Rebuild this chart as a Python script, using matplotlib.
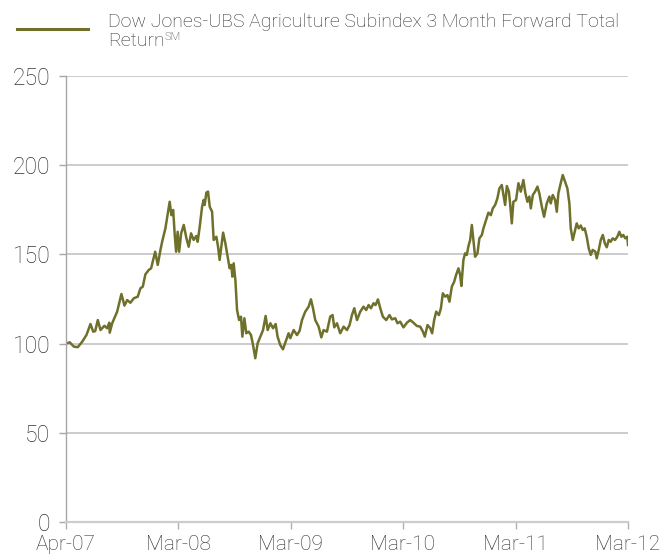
import numpy as np
from matplotlib import pyplot as plt
from matplotlib.lines import Line2D

# time in years since Apr-07, index level
t = [0.000, 0.038, 0.074, 0.109, 0.148, 0.186, 0.222, 0.246, 0.264, 0.287,
     0.311, 0.346, 0.370, 0.389, 0.393, 0.415, 0.459, 0.497, 0.524, 0.548,
     0.577, 0.607, 0.642, 0.666, 0.687, 0.710, 0.740, 0.761, 0.779, 0.797,
     0.820, 0.844, 0.859, 0.888, 0.909, 0.926, 0.941, 0.957, 0.971, 0.983,
     0.997, 1.010, 1.028, 1.051, 1.075, 1.095, 1.116, 1.139, 1.163, 1.175,
     1.193, 1.214, 1.228, 1.237, 1.252, 1.267, 1.282, 1.303, 1.317, 1.341,
     1.356, 1.370, 1.383, 1.401, 1.421, 1.441, 1.459, 1.474, 1.483, 1.495,
     1.510, 1.525, 1.543, 1.560, 1.572, 1.590, 1.607, 1.628, 1.649, 1.667,
     1.687, 1.708, 1.732, 1.756, 1.779, 1.797, 1.821, 1.845, 1.868, 1.885,
     1.909, 1.933, 1.956, 1.983, 1.998, 2.028, 2.058, 2.081, 2.102, 2.131,
     2.161, 2.182, 2.200, 2.220, 2.250, 2.274, 2.294, 2.324, 2.353, 2.374,
     2.389, 2.413, 2.442, 2.472, 2.502, 2.525, 2.546, 2.567, 2.591, 2.620,
     2.649, 2.673, 2.694, 2.715, 2.738, 2.756, 2.777, 2.798, 2.821, 2.851,
     2.880, 2.901, 2.931, 2.951, 2.975, 3.004, 3.035, 3.064, 3.093, 3.123,
     3.153, 3.177, 3.194, 3.218, 3.242, 3.259, 3.277, 3.295, 3.319, 3.337,
     3.354, 3.375, 3.395, 3.413, 3.434, 3.455, 3.472, 3.493, 3.508, 3.519,
     3.537, 3.552, 3.567, 3.582, 3.597, 3.612, 3.626, 3.641, 3.662, 3.679,
     3.701, 3.715, 3.739, 3.759, 3.781, 3.798, 3.819, 3.839, 3.857, 3.878,
     3.893, 3.908, 3.923, 3.941, 3.952, 3.967, 3.981, 4.005, 4.026, 4.047,
     4.070, 4.088, 4.106, 4.123, 4.136, 4.154, 4.174, 4.195, 4.212, 4.234,
     4.254, 4.278, 4.301, 4.313, 4.331, 4.352, 4.367, 4.381, 4.402, 4.420,
     4.440, 4.461, 4.479, 4.491, 4.509, 4.526, 4.544, 4.562, 4.580, 4.598,
     4.615, 4.633, 4.651, 4.669, 4.686, 4.710, 4.722, 4.740, 4.758, 4.776,
     4.794, 4.811, 4.829, 4.846, 4.864, 4.885, 4.905, 4.923, 4.941, 4.958,
     4.976, 4.994, 5.000]
level = [100, 100.7, 98.3, 98, 101, 104.8, 111, 106.7, 107, 113.2,
         107.6, 110, 108.6, 111.7, 106.1, 111.4, 117.9, 127.8, 121.3, 124.4,
         122.9, 125.4, 126.3, 131, 131.9, 138.8, 141.3, 142.2, 146.9, 151.5,
         144.1, 152.5, 157.1, 164.6, 173, 179.5, 172, 174.9, 160.9, 151.5,
         162.7, 151.5, 161.8, 166.5, 159, 154.3, 161.8, 158.1, 160.3, 157.1,
         165.5, 176.7, 180.5, 177.7, 184.6, 185.2, 176.7, 173.9, 158.1, 159.9,
         154.3, 146.9, 153.4, 162.2, 156.2, 148.7, 142.2, 144.1, 137.5, 145,
         135.6, 118.8, 113.2, 115.1, 103.9, 114.2, 105.8, 106.7, 104.8, 99.2,
         91.8, 100.2, 103.9, 107.6, 115.5, 107.6, 111.4, 108.6, 111, 103.9,
         99.2, 96.8, 101, 105.8, 103, 107.6, 104.8, 107.2, 113.2, 117.9,
         120.7, 124.8, 119.8, 113.2, 109.5, 103.5, 107.6, 106.7, 115.1, 116,
         109.1, 111.4, 105.8, 109.5, 107.6, 110.4, 116, 119.8, 113.2, 117.9,
         120.7, 118.8, 121.6, 119.8, 122.6, 121.6, 124.8, 119.8, 115.1, 113.2,
         116, 113.6, 114.2, 111.4, 112.3, 109.1, 111.7, 113.2, 111.7, 109.9,
         109.5, 106.7, 103.9, 110.4, 108.6, 105.8, 113.2, 117.9, 116, 119.8,
         128.2, 126.3, 127.2, 123.5, 131.9, 134.7, 138.5, 142.2, 138.5, 132.3,
         146.9, 150.6, 149.7, 154.7, 158.1, 166.5, 158.1, 148.7, 150.6, 159,
         160.9, 164.6, 169.3, 173.4, 172, 175.8, 177.7, 181.4, 187, 188.9,
         183.3, 177.7, 188.3, 185.2, 178.6, 167.4, 179.5, 180.5, 189.9, 185.2,
         191.7, 184.2, 179.5, 182.4, 175.8, 183.3, 185.2, 188, 184.2, 176.7,
         171.1, 178.6, 182.4, 178.6, 183.3, 180.5, 173.9, 184.2, 189.9, 194.5,
         190.8, 187, 178.6, 164.6, 158.1, 162.7, 167.4, 164.6, 166.2, 163.7,
         164.6, 159.9, 153.4, 149.7, 152.5, 151.5, 147.8, 152.5, 158.1, 160.9,
         156.2, 154, 158.1, 157.1, 159, 158.1, 159.9, 162.7, 159.9, 160.9,
         159, 159.9, 155.3]

xticks = [0, 1, 2, 3, 4, 5]
xlabels = ["Apr-07", "Mar-08", "Mar-09", "Mar-10", "Mar-11", "Mar-12"]
yticks = [0, 50, 100, 150, 200, 250]
series_name = "Dow Jones-UBS Agriculture Subindex 3 Month Forward Total"

olive = "#6f702b"
grey = "#cccccc"
txt = "#333333"

plt.rcParams["font.family"] = ["Roboto", "DejaVu Sans"]
plt.rcParams["font.weight"] = "light"

fig = plt.figure(figsize=(6.6, 5.56), dpi=100)
ax = fig.add_axes([65.5 / 660, 34 / 556, 562.5 / 660, 446 / 556])

ax.plot(t, level, color=olive, lw=1.8)

ax.set_xlim(0, 5)
ax.set_ylim(0, 250)
ax.set_xticks(xticks)
ax.set_xticklabels(xlabels)
ax.set_yticks(yticks)
ax.yaxis.grid(True, color=grey, lw=1.4)
ax.set_axisbelow(True)

for s in ["top", "right"]:
    ax.spines[s].set_visible(False)
ax.spines["left"].set_color("#a6a6a6")
ax.spines["left"].set_linewidth(1.0)
ax.spines["bottom"].set_color(grey)
ax.spines["bottom"].set_linewidth(1.6)
ax.tick_params(axis="x", colors="#b0b0b0", length=5, width=1, labelcolor=txt,
               labelsize=15, pad=4)
ax.tick_params(axis="y", colors="#a6a6a6", length=5, width=1, labelcolor=txt,
               labelsize=16.5, pad=6)

# legend drawn by hand
fig.add_artist(Line2D([17 / 660, 88 / 660], [1 - 29 / 556, 1 - 29 / 556],
                      color=olive, lw=2.2))
fig.text(108 / 660, 1 - 27 / 556, series_name, fontsize=14, color=txt,
         va="baseline")
ret = fig.text(108 / 660, 1 - 46 / 556, "Return", fontsize=14, color=txt,
               va="baseline")
fig.add_artist(plt.Annotation("SM", xy=(1, 0.45), xycoords=ret,
                              fontsize=8, color=txt, va="bottom"))

fig.savefig("out.png", dpi=100)
